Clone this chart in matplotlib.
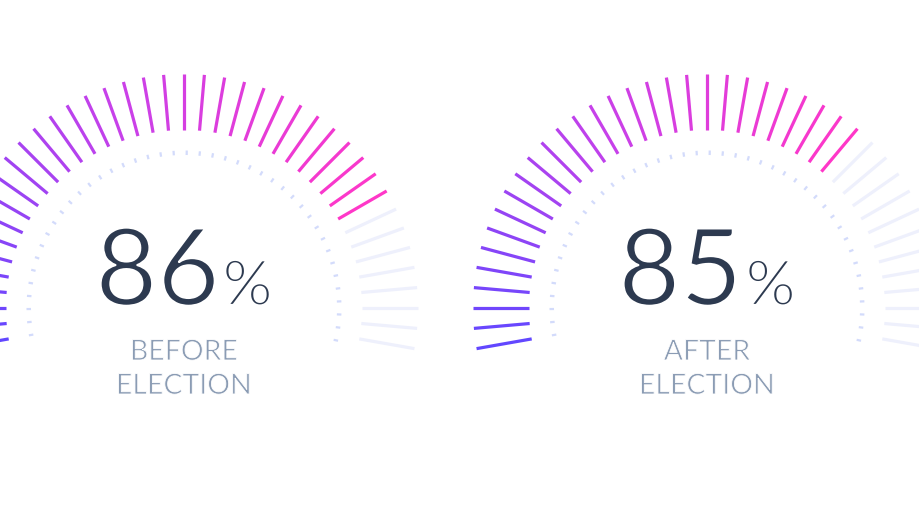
import numpy as np
import matplotlib
matplotlib.use("Agg")
import matplotlib.pyplot as plt
import matplotlib.patheffects as pe
from matplotlib.collections import LineCollection
from matplotlib.colors import LinearSegmentedColormap

# data
values = [86, 85]
labels = ["BEFORE\nELECTION", "AFTER\nELECTION"]
lit_ticks = [33, 29]          # coloured ticks out of 41
n_ticks = 41
n_dots = 43

# layout (pixels)
centers_x = [184, 707]
center_y = 308
r_in, r_out = 178, 234
dot_in, dot_out = 153, 157.5

grad = LinearSegmentedColormap.from_list("g", ["#6247ff", "#c741ea", "#ff37c8"])
gray_tick = "#eef0fc"
dot_col = "#d3dbfb"
num_col = "#2d3a50"
lab_col = "#8b9cb4"

# thin the regular Lato glyphs a bit (white outline eats the edges)
thin_num = [pe.Stroke(linewidth=1.6, foreground="white")]
thin_lab = [pe.Stroke(linewidth=0.6, foreground="white")]

fig = plt.figure(figsize=(9.2, 5.16), dpi=100)
ax = fig.add_axes([0, 0, 1, 1])
ax.set_xlim(0, 920)
ax.set_ylim(516, 0)
ax.axis("off")

angles = np.radians(np.linspace(190, -10, n_ticks))
dot_angles = np.radians(np.linspace(190, -12, n_dots))

num_texts = []
for k in range(len(values)):
    cx = centers_x[k]
    segs = []
    cols = []
    for i, a in enumerate(angles):
        c, s = np.cos(a), np.sin(a)
        segs.append([(cx + r_in * c, center_y - r_in * s), (cx + r_out * c, center_y - r_out * s)])
        if i < lit_ticks[k]:
            cols.append(grad(i / (lit_ticks[k] - 1)))
        else:
            cols.append(gray_tick)
    ax.add_collection(LineCollection(segs, colors=cols, linewidths=2.3, capstyle="butt"))

    dsegs = []
    for a in dot_angles:
        c, s = np.cos(a), np.sin(a)
        dsegs.append([(cx + dot_in * c, center_y - dot_in * s), (cx + dot_out * c, center_y - dot_out * s)])
    ax.add_collection(LineCollection(dsegs, colors=dot_col, linewidths=1.6, capstyle="butt"))

    t1 = ax.text(cx, 305, str(values[k]), fontsize=77, family="Lato",
                 color=num_col, ha="right", va="baseline", path_effects=thin_num)
    t2 = ax.text(cx, 305, "%", fontsize=45, family="Lato",
                 color=num_col, ha="left", va="baseline", path_effects=thin_num)
    num_texts.append((cx, t1, t2))

    for j, line in enumerate(labels[k].split("\n")):
        ax.text(cx, 360 + 34 * j, line, fontsize=20.5, family="Lato", color=lab_col,
                ha="center", va="baseline", path_effects=thin_lab)

# centre the number + percent pair under each gauge
fig.canvas.draw()
r = fig.canvas.get_renderer()
for cx, t1, t2 in num_texts:
    w1 = t1.get_window_extent(r).width
    w2 = t2.get_window_extent(r).width
    gap = 3
    left = cx - (w1 + gap + w2) / 2
    t1.set_x(left + w1)
    t2.set_x(left + w1 + gap)

fig.savefig("out.png", dpi=100, facecolor="white")
